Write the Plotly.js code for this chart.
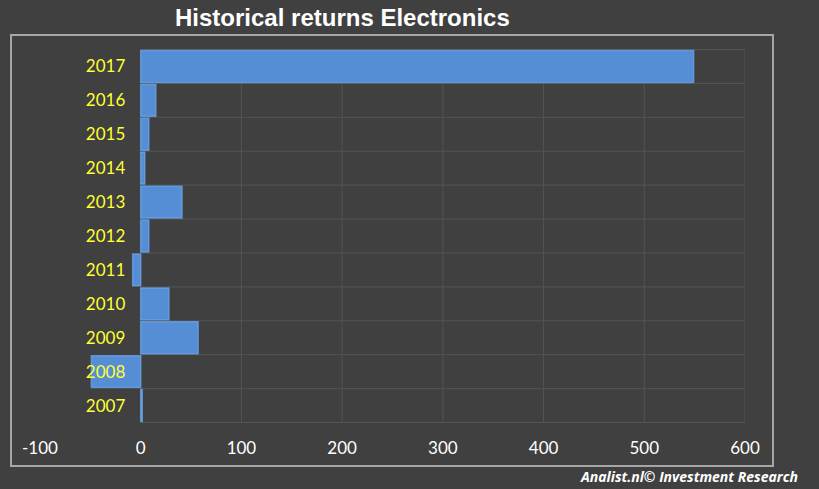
<!DOCTYPE html>
<html><head><meta charset="utf-8">
<script src="https://cdn.plot.ly/plotly-3.0.1.min.js"></script>
<style>html,body{margin:0;padding:0;background:#404040;}#chart{width:819px;height:489px;}</style>
</head><body><div id="chart"></div>
<script>
const years = ["2007","2008","2009","2010","2011","2012","2013","2014","2015","2016","2017"];
const returns = [1.5, -49, 57, 28, -8, 8, 41, 4, 8, 15, 549];
const xTicks = [-100, 0, 100, 200, 300, 400, 500, 600];
const titleText = "Historical returns Electronics";
const footerText = "Analist.nl© Investment Research";

const gridColor = "#545454";
const shapes = [];
// vertical grid lines at positive ticks
xTicks.filter(v => v > 0).forEach(v => {
  shapes.push({type:"line", xref:"x", yref:"paper", x0:v, x1:v, y0:0, y1:1,
    line:{color:gridColor, width:1}, layer:"below"});
});
// horizontal category separators
for (let i = 0; i <= years.length; i++) {
  shapes.push({type:"line", xref:"x", yref:"y", x0:0, x1:600, y0:i-0.5, y1:i-0.5,
    line:{color:gridColor, width:1}, layer:"below"});
}
// outer frame
shapes.push({type:"rect", xref:"paper", yref:"paper", x0:-0.0411, x1:1.0397, y0:-0.115, y1:1.0374,
  line:{color:"#a6a6a6", width:2}, fillcolor:"rgba(0,0,0,0)", layer:"below"});

const trace = {
  type:"bar", orientation:"h", x:returns, y:years,
  marker:{color:"#558ed5", line:{color:"rgba(110,165,235,0.75)", width:1.5}},
  hoverinfo:"none"
};

const layout = {
  width:819, height:489,
  paper_bgcolor:"#404040", plot_bgcolor:"#404040",
  margin:{l:40, r:74, t:49, b:66},
  bargap:0.06,
  showlegend:false,
  xaxis:{range:[-100,600], tickvals:xTicks, ticktext:xTicks.map(String), showgrid:false, zeroline:false,
    showline:false, ticks:"outside", ticklen:10, tickcolor:"rgba(0,0,0,0)",
    tickfont:{family:"Lato, Open Sans, sans-serif", size:17, color:"#ffffff"}, fixedrange:true},
  yaxis:{type:"category", categoryorder:"array", categoryarray:years, anchor:"free", position:1/7,
    showgrid:false, zeroline:false, showline:false, ticks:"outside", ticklen:12, tickcolor:"rgba(0,0,0,0)",
    tickfont:{family:"Lato, Open Sans, sans-serif", size:17, color:"#ffff33"}, fixedrange:true},
  shapes:shapes,
  annotations:[
    {text:"<b>"+titleText+"</b>", xref:"paper", yref:"paper", x:(342-40)/705, y:(423-17)/374,
      xanchor:"center", yanchor:"middle", showarrow:false,
      font:{family:"Liberation Sans, Arial, sans-serif", size:24, color:"#ffffff"}},
    {text:"<b><i>"+footerText+"</i></b>", xref:"paper", yref:"paper", x:(800-40)/705, y:(423-477)/374,
      xanchor:"right", yanchor:"middle", showarrow:false,
      font:{family:"Open Sans, Liberation Sans, sans-serif", size:14, color:"#ffffff"}}
  ]
};
Plotly.newPlot("chart", [trace], layout, {displayModeBar:false, staticPlot:true});
</script></body></html>
